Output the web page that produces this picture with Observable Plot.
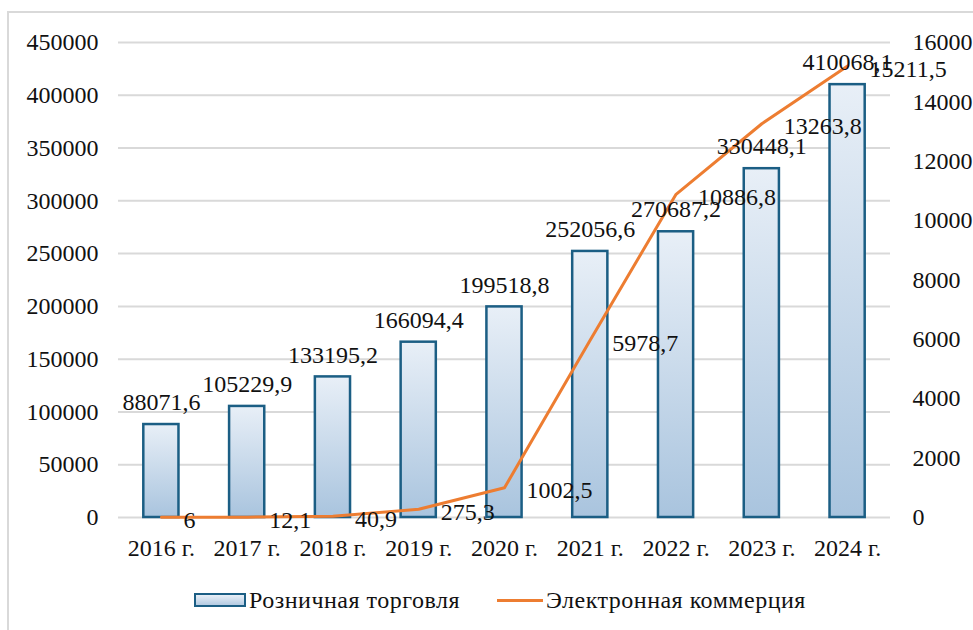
<!DOCTYPE html>
<html>
<head>
<meta charset="utf-8">
<script src="https://cdn.jsdelivr.net/npm/d3@7"></script>
<script src="https://cdn.jsdelivr.net/npm/@observablehq/plot@0.6"></script>
<style>
  html, body { margin: 0; padding: 0; background: #fff; }
  #wrap { position: relative; width: 973px; height: 630px; overflow: hidden; font-family: "Liberation Serif", "DejaVu Serif", "Times New Roman", serif; }
  #frame { position: absolute; left: 7px; top: 11px; width: 1000px; height: 700px; border-left: 2px solid #d9d9d9; border-top: 2px solid #d9d9d9; }
  #chart { position: absolute; left: 0; top: 0; }
  #chart svg, #chart svg text { font-family: "Liberation Serif", "DejaVu Serif", "Times New Roman", serif !important; }
  .legend { position: absolute; top: 587px; left: 0; height: 26px; font-size: 24px; color: #111; letter-spacing: 0.5px; }
  .item { position: absolute; top: 0; white-space: nowrap; display: flex; align-items: center; height: 26px; }
  .sw-bar { width: 48px; height: 10px; border: 2px solid #1b5e84; background: linear-gradient(#e8eff7, #b4cbe2); margin-right: 3px; }
  .sw-line { width: 46px; height: 3px; background: #ed7d31; margin-right: 3px; }
</style>
</head>
<body>
<div id="wrap">
  <div id="frame"></div>
  <div id="chart"></div>
  <div class="legend">
    <div class="item" style="left:194px"><span class="sw-bar"></span><span>Розничная торговля</span></div>
    <div class="item" style="left:497px"><span class="sw-line"></span><span>Электронная коммерция</span></div>
  </div>
</div>
<script>
const years = ["2016 г.", "2017 г.", "2018 г.", "2019 г.", "2020 г.", "2021 г.", "2022 г.", "2023 г.", "2024 г."];
const retail = [88071.6, 105229.9, 133195.2, 166094.4, 199518.8, 252056.6, 270687.2, 330448.1, 410068.1];
const ecommerce = [6, 12.1, 40.9, 275.3, 1002.5, 5978.7, 10886.8, 13263.8, 15211.5];
const leftTicks = [0, 50000, 100000, 150000, 200000, 250000, 300000, 350000, 400000, 450000];
const rightTicks = [0, 2000, 4000, 6000, 8000, 10000, 12000, 14000, 16000];

const leftMax = 450000, rightMax = 16000;
const k = leftMax / rightMax;
const fmt = v => String(v).replace(".", ",");

const data = years.map((year, i) => ({year, retail: retail[i], ecom: ecommerce[i]}));

const svg = Plot.plot({
  width: 973,
  height: 565,
  marginTop: 42,
  marginBottom: 48,
  marginLeft: 118,
  marginRight: 83,
  style: {fontSize: "24px", color: "#111", background: "transparent", overflow: "visible"},
  x: {domain: years, paddingInner: 0.59, paddingOuter: 0.295, round: false, label: null},
  y: {domain: [0, leftMax], label: null},
  marks: [
    Plot.gridY(leftTicks, {stroke: "#d9d9d9", strokeOpacity: 1, strokeWidth: 2}),
    Plot.axisY(leftTicks, {anchor: "left", tickSize: 0, tickPadding: 20, tickFormat: d => String(d), label: null}),
    Plot.axisY(rightTicks.map(t => t * k), {anchor: "right", tickSize: 0, tickPadding: 22, tickFormat: d => String(Math.round(d / k)), label: null}),
    Plot.axisX({tickSize: 0, tickPadding: 21, label: null}),
    Plot.barY(data, {x: "year", y: "retail", fill: "url(#barGrad)", stroke: "#1b5e84", strokeWidth: 2.5}),
    Plot.lineY(data, {x: "year", y: d => d.ecom * k, stroke: "#ed7d31", strokeWidth: 3, strokeLinejoin: "round", strokeLinecap: "round"}),
    Plot.text(data, {x: "year", y: "retail", text: d => fmt(d.retail), dy: -22, fill: "#111"}),
    Plot.text(data, {x: "year", y: d => d.ecom * k, text: d => fmt(d.ecom), dx: 22, dy: 3, textAnchor: "start", fill: "#111"})
  ]
});

// gradient definition for bars
const ns = "http://www.w3.org/2000/svg";
const defs = document.createElementNS(ns, "defs");
const grad = document.createElementNS(ns, "linearGradient");
grad.setAttribute("id", "barGrad");
grad.setAttribute("x1", "0"); grad.setAttribute("y1", "0");
grad.setAttribute("x2", "0"); grad.setAttribute("y2", "1");
[["0%", "#e8eff7"], ["100%", "#a9c4de"]].forEach(([o, c]) => {
  const s = document.createElementNS(ns, "stop");
  s.setAttribute("offset", o); s.setAttribute("stop-color", c);
  grad.appendChild(s);
});
defs.appendChild(grad);
svg.insertBefore(defs, svg.firstChild);

document.getElementById("chart").appendChild(svg);
</script>
</body>
</html>
